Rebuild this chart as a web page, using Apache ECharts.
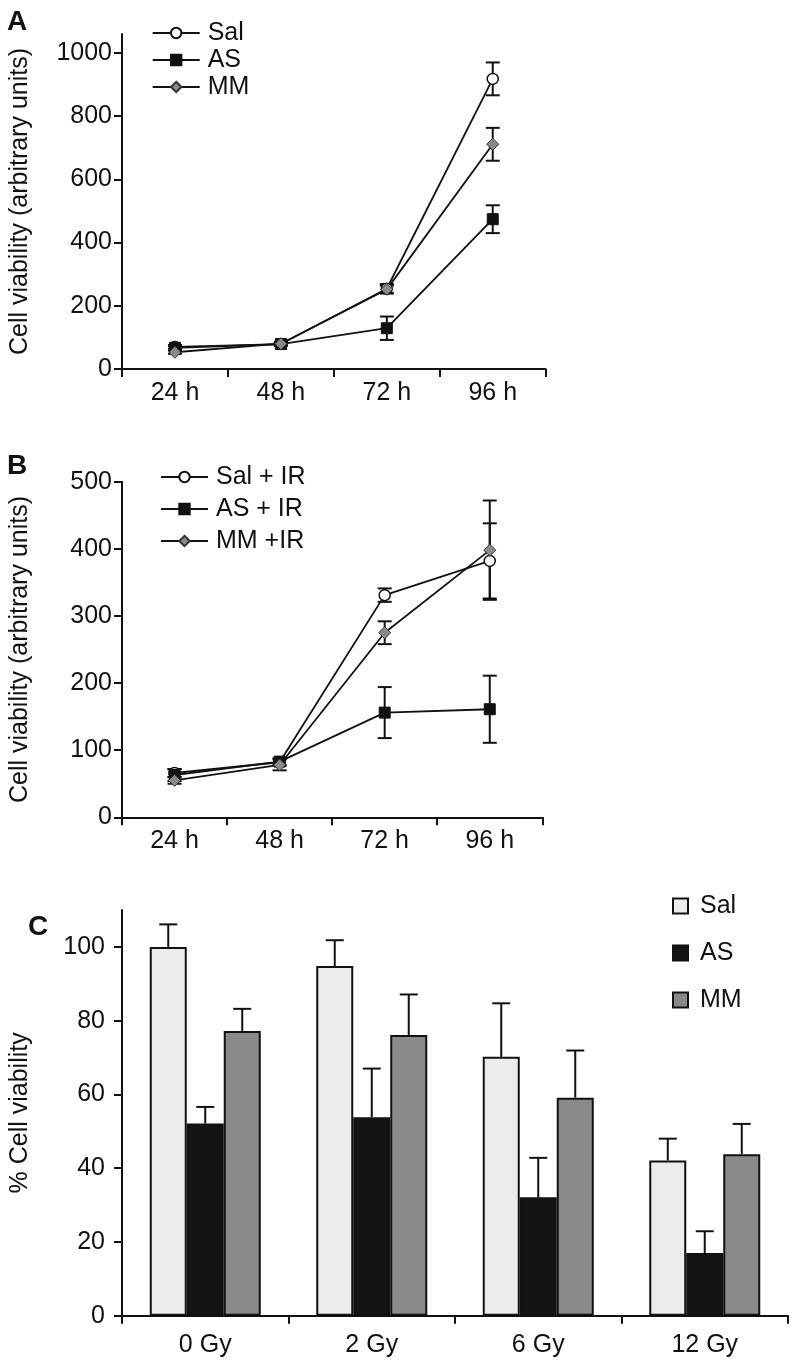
<!DOCTYPE html>
<html>
<head>
<meta charset="utf-8">
<script src="https://cdn.jsdelivr.net/npm/echarts@6/dist/echarts.min.js"></script>
<style>
html,body{margin:0;padding:0;background:#fff;}
#c{width:792px;height:1365px;}
</style>
</head>
<body>
<div id="c"></div>
<script>
// ---------- data ----------
const hours = ['24 h', '48 h', '72 h', '96 h'];
const ticksA = [0, 200, 400, 600, 800, 1000];
const salA = [70, 79, 254, 918];
const salAErr = [6, 5, 15, 52];
const asA = [67, 79, 129, 474];
const asAErr = [5, 5, 37, 44];
const mmA = [53, 80, 252, 711];
const mmAErr = [5, 5, 12, 52];

const ticksB = [0, 100, 200, 300, 400, 500];
const salB = [66, 82, 331, 382];
const salBErr = [6, 5, 10, 56];
const asB = [63, 83, 156, 161];
const asBErr = [9, 5, 38, 50];
const mmB = [55, 78, 275, 398];
const mmBErr = [5, 8, 17, 74];

const doses = ['0 Gy', '2 Gy', '6 Gy', '12 Gy'];
const ticksC = [0, 20, 40, 60, 80, 100];
const salC = [100, 94.8, 70.2, 42.1];
const salCErr = [6.1, 7.0, 14.5, 5.9];
const asC = [52.1, 53.8, 32.1, 17.0];
const asCErr = [4.5, 13.2, 10.7, 5.9];
const mmC = [77.2, 76.1, 59.1, 43.8];
const mmCErr = [6.0, 11.0, 12.8, 8.2];

// ---------- style ----------
const FONT = 'Liberation Sans, Arial, sans-serif';
const INK = '#111';
const FS = 25;
const BAR_W = 37;

const chart = echarts.init(document.getElementById('c'), null, {renderer: 'canvas'});

function errData(vals, errs) {
  return vals.map((v, i) => [i, v, errs[i]]);
}
function errRender(capHalf) {
  return function (params, api) {
    const i = api.value(0), v = api.value(1), e = api.value(2);
    const t = api.coord([i, v + e]);
    const b = api.coord([i, v - e]);
    const st = {stroke: INK, lineWidth: 2};
    return {type: 'group', children: [
      {type: 'line', shape: {x1: t[0], y1: t[1], x2: b[0], y2: b[1]}, style: st},
      {type: 'line', shape: {x1: t[0] - capHalf, y1: t[1], x2: t[0] + capHalf, y2: t[1]}, style: st},
      {type: 'line', shape: {x1: b[0] - capHalf, y1: b[1], x2: b[0] + capHalf, y2: b[1]}, style: st}
    ]};
  };
}
function errUpRender(k, capHalf) {
  return function (params, api) {
    const i = api.value(0), v = api.value(1), e = api.value(2);
    const base = api.coord([i, v]);
    const t = api.coord([i, v + e]);
    const x = base[0] + (k - 1) * BAR_W;
    const st = {stroke: INK, lineWidth: 2};
    return {type: 'group', children: [
      {type: 'line', shape: {x1: x, y1: base[1], x2: x, y2: t[1]}, style: st},
      {type: 'line', shape: {x1: x - capHalf, y1: t[1], x2: x + capHalf, y2: t[1]}, style: st}
    ]};
  };
}

function catAxis(gi, data, margin) {
  return {
    type: 'category', gridIndex: gi, data: data, boundaryGap: true,
    axisLine: {lineStyle: {color: INK, width: 2}},
    axisTick: {show: true, length: 8, lineStyle: {color: INK, width: 2}},
    axisLabel: {color: INK, fontSize: FS, fontFamily: FONT, margin: margin},
    splitLine: {show: false}
  };
}
function valAxis(gi, max, interval, ticks, name, margin) {
  return {
    type: 'value', gridIndex: gi, min: 0, max: max, interval: interval,
    name: name, nameLocation: 'middle', nameGap: 89,
    nameTextStyle: {color: INK, fontSize: FS, fontFamily: FONT},
    axisLine: {show: true, lineStyle: {color: INK, width: 2}},
    axisTick: {show: true, length: 8, lineStyle: {color: INK, width: 2}, customValues: ticks},
    axisLabel: {color: INK, fontSize: FS, fontFamily: FONT, margin: margin, customValues: ticks,
      formatter: function (v) { return String(v); }},
    splitLine: {show: false}
  };
}

const symSal = {symbol: 'circle', symbolSize: 11, itemStyle: {color: '#fff', borderColor: INK, borderWidth: 1.5}};
const symAS = {symbol: 'rect', symbolSize: 11, itemStyle: {color: INK, borderColor: INK, borderWidth: 1}};
const symMM = {symbol: 'diamond', symbolSize: 12, itemStyle: {color: '#8a8a8a', borderColor: '#333', borderWidth: 1}};

function lineSeries(name, gi, data, sym) {
  return Object.assign({
    type: 'line', name: name, xAxisIndex: gi, yAxisIndex: gi, data: data,
    lineStyle: {color: INK, width: 1.8}, z: 3, showAllSymbol: true
  }, sym);
}
function errSeries(gi, vals, errs) {
  return {type: 'custom', xAxisIndex: gi, yAxisIndex: gi, data: errData(vals, errs),
    renderItem: errRender(7), encode: {x: 0, y: 1}, z: 2, silent: true};
}
function barSeries(name, data, color) {
  return {type: 'bar', name: name, xAxisIndex: 2, yAxisIndex: 2, data: data,
    barWidth: BAR_W, barGap: '0%',
    itemStyle: {color: color, borderColor: INK, borderWidth: 2}, z: 2};
}
function errUpSeries(k, vals, errs) {
  return {type: 'custom', xAxisIndex: 2, yAxisIndex: 2, data: errData(vals, errs),
    renderItem: errUpRender(k, 9), encode: {x: 0, y: 1}, z: 1, silent: true};
}

const legendText = {color: INK, fontSize: FS, fontFamily: FONT, lineHeight: 26, padding: [0, 0, 0, 3]};

const option = {
  animation: false,
  backgroundColor: '#fff',
  title: [
    {text: 'A', left: 2, top: 3, textStyle: {fontSize: 28, fontWeight: 'bold', color: INK, fontFamily: FONT}},
    {text: 'B', left: 2, top: 447, textStyle: {fontSize: 28, fontWeight: 'bold', color: INK, fontFamily: FONT}},
    {text: 'C', left: 23, top: 908, textStyle: {fontSize: 28, fontWeight: 'bold', color: INK, fontFamily: FONT}}
  ],
  grid: [
    {left: 121.7, right: 246.3, top: 34, bottom: 996},
    {left: 121.7, right: 249.7, top: 481.7, bottom: 547.7},
    {left: 120.7, right: 4, top: 910, bottom: 49.3}
  ],
  legend: [
    {data: ['Sal', 'AS', 'MM'], orient: 'vertical', left: 151.7, top: 20, itemWidth: 47, itemHeight: 13,
     itemGap: 1, padding: 0, textStyle: legendText, selectedMode: false},
    {data: ['Sal + IR', 'AS + IR', 'MM +IR'], orient: 'vertical', left: 160, top: 464, itemWidth: 47, itemHeight: 13,
     itemGap: 6, padding: 0, textStyle: legendText, selectedMode: false},
    {data: ['Sal ', 'AS ', 'MM '], orient: 'vertical', left: 672, top: 893, itemWidth: 15, itemHeight: 15,
     itemGap: 21, padding: 0, icon: 'rect', textStyle: Object.assign({}, legendText, {padding: [0, 0, 0, 7]}), selectedMode: false}
  ],
  xAxis: [catAxis(0, hours, 12), catAxis(1, hours, 11), catAxis(2, doses, 17)],
  yAxis: [
    valAxis(0, 1060, 200, ticksA, 'Cell viability (arbitrary units)', 10),
    valAxis(1, 500, 100, ticksB, 'Cell viability (arbitrary units)', 10),
    valAxis(2, 110, 20, ticksC, '% Cell viability', 17)
  ],
  series: [
    errSeries(0, salA, salAErr), errSeries(0, asA, asAErr), errSeries(0, mmA, mmAErr),
    lineSeries('Sal', 0, salA, symSal), lineSeries('AS', 0, asA, symAS), lineSeries('MM', 0, mmA, symMM),
    errSeries(1, salB, salBErr), errSeries(1, asB, asBErr), errSeries(1, mmB, mmBErr),
    lineSeries('Sal + IR', 1, salB, symSal), lineSeries('AS + IR', 1, asB, symAS), lineSeries('MM +IR', 1, mmB, symMM),
    errUpSeries(0, salC, salCErr), errUpSeries(1, asC, asCErr), errUpSeries(2, mmC, mmCErr),
    barSeries('Sal ', salC, '#ececec'), barSeries('AS ', asC, '#141414'), barSeries('MM ', mmC, '#8a8a8a')
  ]
};
chart.setOption(option);
</script>
</body>
</html>
